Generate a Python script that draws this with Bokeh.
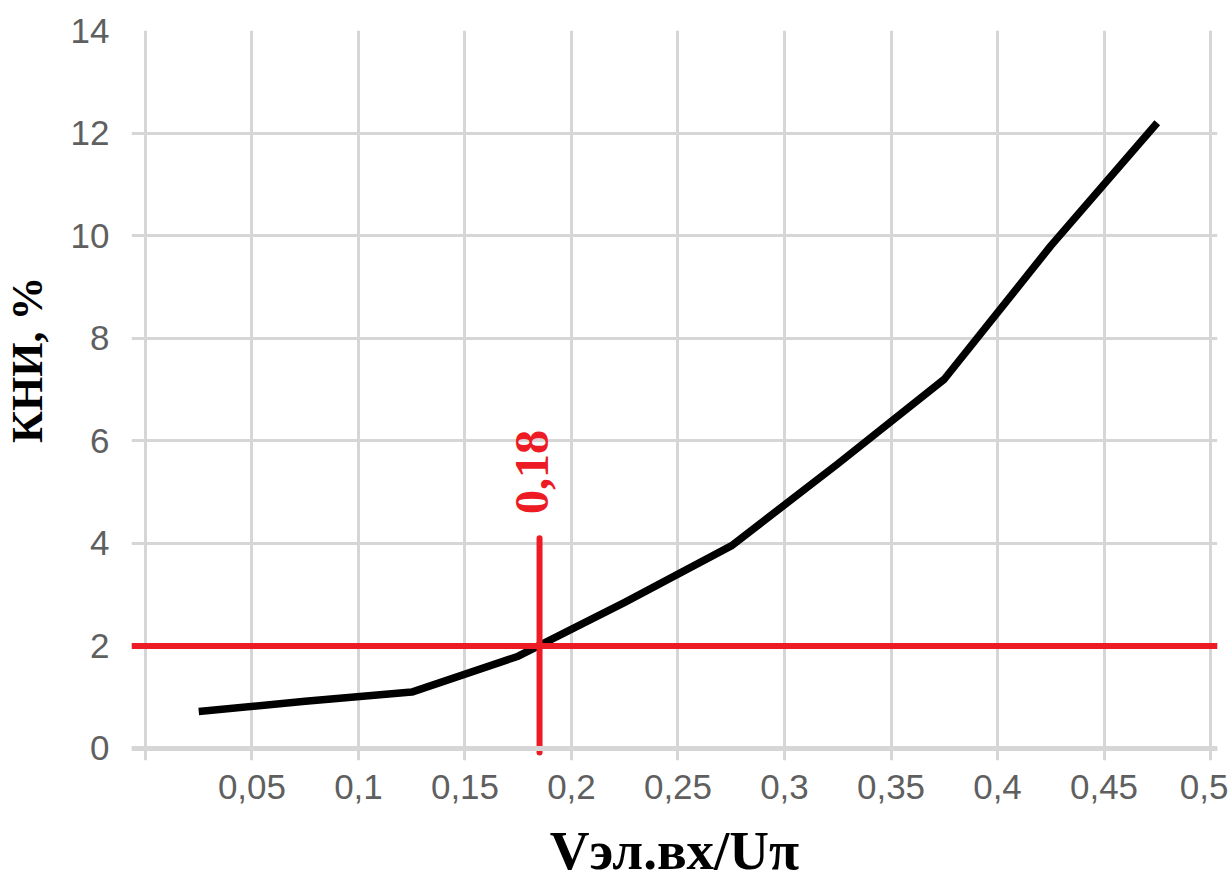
from bokeh.plotting import figure
from bokeh.models import Range1d, FixedTicker, Span, Label, LinearAxis
from bokeh.embed import file_html
from bokeh.resources import INLINE

# ---- data ----
v_ratio = [0.025, 0.075, 0.125, 0.175, 0.225, 0.275, 0.325, 0.375, 0.425, 0.475]
kni_pct = [0.72, 0.92, 1.10, 1.80, 2.85, 3.95, 5.55, 7.20, 9.80, 12.20]

x_ticks = [0, 0.05, 0.1, 0.15, 0.2, 0.25, 0.3, 0.35, 0.4, 0.45, 0.5]
x_tick_labels = ["", "0,05", "0,1", "0,15", "0,2", "0,25", "0,3", "0,35", "0,4", "0,45", "0,5"]
y_ticks = [0, 2, 4, 6, 8, 10, 12, 14]

threshold_kni = 2
threshold_v = [0.185]
marker_bottom = [-0.08]
marker_top = [4.1]
threshold_text = "0,18"

x_title = "Vэл.вх/Uπ"
y_title = "КНИ, %"

RED = "#ED1C24"
GRID = "#d6d6d6"
TICK_TXT = "#5f5f5f"

p = figure(width=1228, height=888,
           x_range=Range1d(-0.00656, 0.50328),
           y_range=Range1d(-0.234, 14),
           output_backend="svg", toolbar_location=None,
           min_border_left=129, min_border_right=11,
           min_border_top=30, min_border_bottom=128)
p.outline_line_color = None
p.background_fill_color = "white"
p.border_fill_color = "white"


def plain_axis(ax):
    ax.axis_line_color = None
    ax.major_tick_line_color = None
    ax.minor_tick_line_color = None
    ax.major_tick_out = 0
    ax.major_tick_in = 0
    ax.minor_tick_out = 0
    ax.minor_tick_in = 0


# axes
p.xaxis.ticker = FixedTicker(ticks=x_ticks)
p.xaxis.major_label_overrides = {t: l for t, l in zip(x_ticks, x_tick_labels)}
p.yaxis.ticker = FixedTicker(ticks=y_ticks)
for ax in (p.xaxis, p.yaxis):
    plain_axis(ax)
    ax.major_label_text_font = "Liberation Sans"
    ax.major_label_text_font_size = "35px"
    ax.major_label_text_color = TICK_TXT
p.xaxis.major_label_standoff = 14
p.yaxis.major_label_standoff = 22

# x title as the axis label
p.xaxis.axis_label = x_title
p.xaxis.axis_label_text_font = "Liberation Serif"
p.xaxis.axis_label_text_font_style = "bold"
p.xaxis.axis_label_text_font_size = "55px"
p.xaxis.axis_label_text_color = "black"
p.xaxis.axis_label_standoff = 18

# y title: a second, label-only axis on the left
y_title_pos = 7.58
yt_axis = LinearAxis(ticker=FixedTicker(ticks=[y_title_pos]),
                     major_label_overrides={y_title_pos: y_title},
                     major_label_orientation="vertical",
                     major_label_standoff=15,
                     major_label_text_font="Liberation Serif",
                     major_label_text_font_style="bold",
                     major_label_text_font_size="44px",
                     major_label_text_color="black")
plain_axis(yt_axis)
p.add_layout(yt_axis, "left")

# grid
p.xgrid.ticker = FixedTicker(ticks=x_ticks)
p.ygrid.ticker = FixedTicker(ticks=y_ticks)
p.grid.grid_line_color = GRID
p.grid.grid_line_width = 3

# thicker base line at y = 0
p.add_layout(Span(location=0, dimension="width", line_color=GRID, line_width=5))

# curve
p.line(v_ratio, kni_pct, line_color="black", line_width=7.5, line_join="round")

# red threshold lines
p.add_layout(Span(location=threshold_kni, dimension="width",
                  line_color=RED, line_width=6))
p.segment(x0=threshold_v, y0=marker_bottom, x1=threshold_v, y1=marker_top,
          line_color=RED, line_width=6, line_cap="round")

p.add_layout(Label(x=0.1814, y=5.39, text=threshold_text, angle=1.5708,
                   text_align="center", text_baseline="middle",
                   text_font="Liberation Serif", text_font_style="bold",
                   text_font_size="48px", text_color=RED))

open("out.html", "w").write(file_html(p, INLINE))
